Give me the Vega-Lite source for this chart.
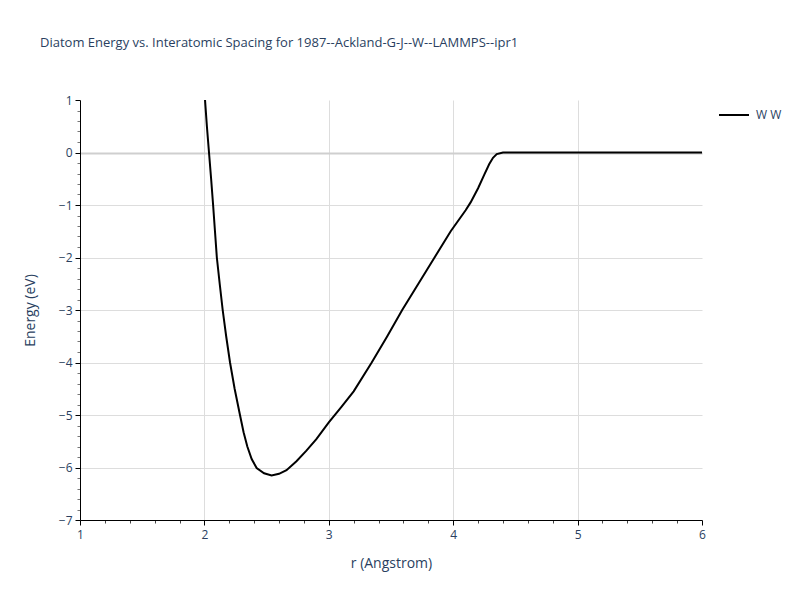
{
  "$schema": "https://vega.github.io/schema/vega-lite/v6.json",
  "width": 622,
  "height": 420,
  "autosize": {"type": "none"},
  "padding": {"left": 80, "top": 100, "right": 98, "bottom": 80},
  "background": "white",
  "title": {
    "text": "Diatom Energy vs. Interatomic Spacing for 1987--Ackland-G-J--W--LAMMPS--ipr1",
    "anchor": "start",
    "frame": "group",
    "dx": -40,
    "offset": 44,
    "font": "Open Sans",
    "fontSize": 13,
    "fontWeight": "normal",
    "color": "#2a3f5f"
  },
  "data": {
    "values": [
      {"r": 2.005, "E": 1.0, "pair": "W W"},
      {"r": 2.02, "E": 0.5, "pair": "W W"},
      {"r": 2.037, "E": 0.0, "pair": "W W"},
      {"r": 2.054, "E": -0.5, "pair": "W W"},
      {"r": 2.07, "E": -1.0, "pair": "W W"},
      {"r": 2.085, "E": -1.5, "pair": "W W"},
      {"r": 2.1, "E": -2.0, "pair": "W W"},
      {"r": 2.123, "E": -2.5, "pair": "W W"},
      {"r": 2.147, "E": -3.0, "pair": "W W"},
      {"r": 2.175, "E": -3.5, "pair": "W W"},
      {"r": 2.206, "E": -4.0, "pair": "W W"},
      {"r": 2.243, "E": -4.5, "pair": "W W"},
      {"r": 2.286, "E": -5.0, "pair": "W W"},
      {"r": 2.315, "E": -5.33, "pair": "W W"},
      {"r": 2.345, "E": -5.6, "pair": "W W"},
      {"r": 2.38, "E": -5.84, "pair": "W W"},
      {"r": 2.42, "E": -6.01, "pair": "W W"},
      {"r": 2.48, "E": -6.11, "pair": "W W"},
      {"r": 2.54, "E": -6.15, "pair": "W W"},
      {"r": 2.6, "E": -6.12, "pair": "W W"},
      {"r": 2.66, "E": -6.05, "pair": "W W"},
      {"r": 2.74, "E": -5.88, "pair": "W W"},
      {"r": 2.82, "E": -5.68, "pair": "W W"},
      {"r": 2.9, "E": -5.46, "pair": "W W"},
      {"r": 3.0, "E": -5.14, "pair": "W W"},
      {"r": 3.1, "E": -4.85, "pair": "W W"},
      {"r": 3.2, "E": -4.55, "pair": "W W"},
      {"r": 3.345, "E": -4.0, "pair": "W W"},
      {"r": 3.47, "E": -3.5, "pair": "W W"},
      {"r": 3.59, "E": -3.0, "pair": "W W"},
      {"r": 3.72, "E": -2.5, "pair": "W W"},
      {"r": 3.85, "E": -2.0, "pair": "W W"},
      {"r": 3.98, "E": -1.5, "pair": "W W"},
      {"r": 4.1, "E": -1.1, "pair": "W W"},
      {"r": 4.14, "E": -0.95, "pair": "W W"},
      {"r": 4.2, "E": -0.68, "pair": "W W"},
      {"r": 4.25, "E": -0.42, "pair": "W W"},
      {"r": 4.29, "E": -0.22, "pair": "W W"},
      {"r": 4.32, "E": -0.1, "pair": "W W"},
      {"r": 4.35, "E": -0.03, "pair": "W W"},
      {"r": 4.4, "E": 0.0, "pair": "W W"},
      {"r": 5.0, "E": 0.0, "pair": "W W"},
      {"r": 6.0, "E": 0.0, "pair": "W W"}
    ]
  },
  "mark": {"type": "line", "strokeWidth": 2, "clip": true},
  "encoding": {
    "x": {
      "field": "r",
      "type": "quantitative",
      "scale": {"domain": [1, 6], "nice": false, "zero": false},
      "axis": {
        "title": "r (Angstrom)",
        "values": [1, 1.2, 1.4, 1.6, 1.8, 2, 2.2, 2.4, 2.6, 2.8, 3, 3.2, 3.4, 3.6, 3.8, 4, 4.2, 4.4, 4.6, 4.8, 5, 5.2, 5.4, 5.6, 5.8, 6],
        "labelExpr": "abs(datum.value - round(datum.value)) < 0.001 ? format(datum.value, 'd') : ''",
        "labelOverlap": false,
        "labelFlush": false,
        "labelFont": "Open Sans",
        "labelFontSize": 12,
        "labelColor": "#2a3f5f",
        "labelPadding": 4,
        "titleFont": "Open Sans",
        "titleFontSize": 14,
        "titleFontWeight": "normal",
        "titleColor": "#2a3f5f",
        "titlePadding": 16,
        "domainColor": "black",
        "domainWidth": 1,
        "tickColor": {"condition": {"test": "abs(datum.value - round(datum.value)) < 0.001", "value": "black"}, "value": "#444444"},
        "tickSize": {"condition": {"test": "abs(datum.value - round(datum.value)) < 0.001", "value": 5}, "value": 3},
        "tickWidth": 1,
        "grid": true,
        "gridColor": "#dddddd",
        "gridWidth": 1,
        "gridOpacity": {"condition": {"test": "datum.value > 1.5 && datum.value < 5.5 && abs(datum.value - round(datum.value)) < 0.001", "value": 1}, "value": 0}
      }
    },
    "y": {
      "field": "E",
      "type": "quantitative",
      "scale": {"domain": [-7, 1], "nice": false, "zero": false},
      "axis": {
        "title": "Energy (eV)",
        "values": [-7, -6.8, -6.6, -6.4, -6.2, -6, -5.8, -5.6, -5.4, -5.2, -5, -4.8, -4.6, -4.4, -4.2, -4, -3.8, -3.6, -3.4, -3.2, -3, -2.8, -2.6, -2.4, -2.2, -2, -1.8, -1.6, -1.4, -1.2, -1, -0.8, -0.6, -0.4, -0.2, 0, 0.2, 0.4, 0.6, 0.8, 1],
        "labelExpr": "abs(datum.value - round(datum.value)) < 0.001 ? format(datum.value, 'd') : ''",
        "labelOverlap": false,
        "labelFlush": false,
        "labelFont": "Open Sans",
        "labelFontSize": 12,
        "labelColor": "#2a3f5f",
        "labelPadding": 3,
        "titleFont": "Open Sans",
        "titleFontSize": 14,
        "titleFontWeight": "normal",
        "titleColor": "#2a3f5f",
        "titlePadding": 21,
        "domainColor": "black",
        "domainWidth": 1,
        "tickColor": {"condition": {"test": "abs(datum.value - round(datum.value)) < 0.001", "value": "black"}, "value": "#777777"},
        "tickSize": {"condition": {"test": "abs(datum.value - round(datum.value)) < 0.001", "value": 5}, "value": 3},
        "tickWidth": 1,
        "grid": true,
        "gridColor": {"condition": {"test": "abs(datum.value) < 0.001", "value": "#cfcfcf"}, "value": "#dddddd"},
        "gridWidth": {"condition": {"test": "abs(datum.value) < 0.001", "value": 2}, "value": 1},
        "gridOpacity": {"condition": {"test": "datum.value > -6.5 && datum.value < 0.5 && abs(datum.value - round(datum.value)) < 0.001", "value": 1}, "value": 0}
      }
    },
    "color": {
      "field": "pair",
      "type": "nominal",
      "scale": {"domain": ["W W"], "range": ["black"]},
      "legend": {
        "title": null,
        "orient": "none",
        "legendX": 638,
        "legendY": -1,
        "symbolType": "stroke",
        "symbolSize": 900,
        "symbolStrokeWidth": 2,
        "labelFont": "Open Sans",
        "labelFontSize": 12,
        "labelColor": "#2a3f5f",
        "labelOffset": 6
      }
    }
  },
  "config": {
    "view": {"stroke": null}
  }
}
